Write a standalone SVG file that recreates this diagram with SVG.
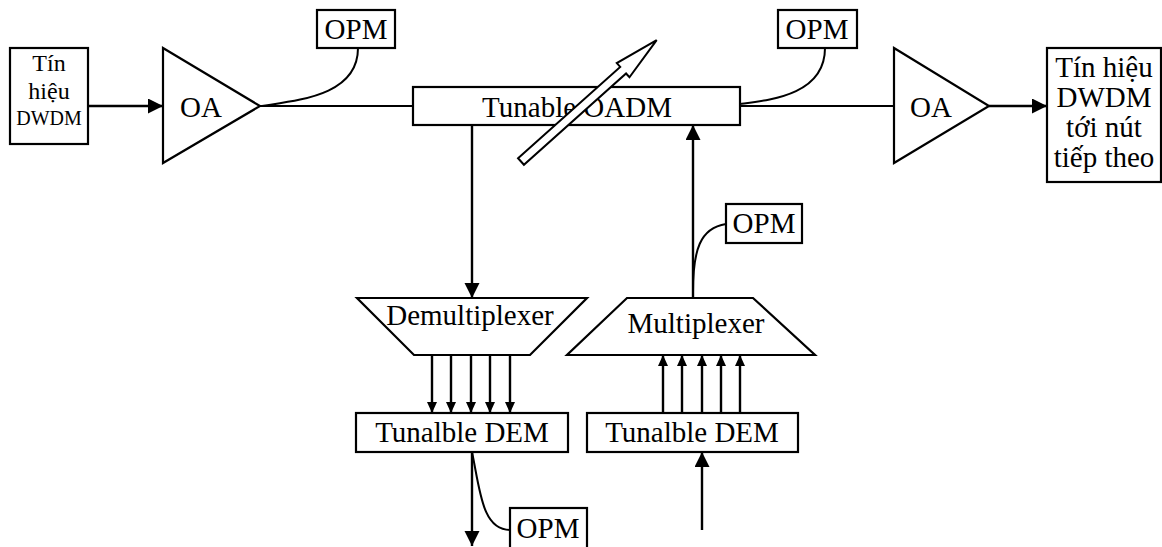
<svg xmlns="http://www.w3.org/2000/svg" width="1162" height="547" viewBox="0 0 1162 547">
<style>
.box{fill:#fff;stroke:#000;stroke-width:2.2}
.t{font-family:"Liberation Serif","Times New Roman",serif;fill:#000;text-anchor:middle}
.big{font-size:29px}
.ln{fill:none;stroke:#000;stroke-width:2}
.th{fill:none;stroke:#000;stroke-width:2.4}
</style>
<defs>
<marker id="ah" markerUnits="userSpaceOnUse" markerWidth="16" markerHeight="16" refX="15" refY="7.5" orient="auto">
<path d="M0,0 L15,7.5 L0,15 Z" fill="#000"/>
</marker>
<marker id="as" markerUnits="userSpaceOnUse" markerWidth="12" markerHeight="10" refX="11" refY="5" orient="auto">
<path d="M0,0 L11,5 L0,10 Z" fill="#000"/>
</marker>
</defs>

<g id="connectors">
<line class="th" x1="88" y1="106" x2="163" y2="106" marker-end="url(#ah)"/>
<line class="ln" x1="260" y1="106" x2="413" y2="106"/>
<path class="ln" d="M358,48 C358,95 300,100 262,106"/>
<line class="ln" x1="740" y1="106" x2="894" y2="106"/>
<path class="ln" d="M825,48 C825,95 770,100 740,104"/>
<line class="th" x1="989" y1="106" x2="1047" y2="106" marker-end="url(#ah)"/>
<line class="th" x1="472" y1="125" x2="472" y2="298" marker-end="url(#ah)"/>
<line class="th" x1="693" y1="298" x2="693" y2="125" marker-end="url(#ah)"/>
<path class="ln" d="M693,292 C693,250 700,228 726,224"/>
<line class="th" x1="432" y1="355" x2="432" y2="413" marker-end="url(#as)"/>
<line class="th" x1="451" y1="355" x2="451" y2="413" marker-end="url(#as)"/>
<line class="th" x1="471" y1="355" x2="471" y2="413" marker-end="url(#as)"/>
<line class="th" x1="490" y1="355" x2="490" y2="413" marker-end="url(#as)"/>
<line class="th" x1="510" y1="355" x2="510" y2="413" marker-end="url(#as)"/>
<line class="th" x1="663" y1="413" x2="663" y2="355" marker-end="url(#as)"/>
<line class="th" x1="682" y1="413" x2="682" y2="355" marker-end="url(#as)"/>
<line class="th" x1="702" y1="413" x2="702" y2="355" marker-end="url(#as)"/>
<line class="th" x1="721" y1="413" x2="721" y2="355" marker-end="url(#as)"/>
<line class="th" x1="740" y1="413" x2="740" y2="355" marker-end="url(#as)"/>
<line class="th" x1="702" y1="530" x2="702" y2="452" marker-end="url(#ah)"/>
<line class="th" x1="472" y1="452" x2="472" y2="546" marker-end="url(#ah)"/>
<path class="ln" d="M472,452 C480,490 482,530 510,530"/>
</g>

<g id="src">
<rect class="box" x="10" y="48" width="78" height="96"/>
<text class="t" x="49" y="71" font-size="24">Tín</text>
<text class="t" x="49" y="99" font-size="24">hiệu</text>
<text class="t" x="49" y="125" font-size="20">DWDM</text>
</g>

<g id="oa1">
<polygon class="box" points="163,48 260,106 163,163"/>
<text class="t big" x="201" y="117">OA</text>
</g>

<g id="opm1">
<rect class="box" x="317" y="10" width="78" height="38"/>
<text class="t big" x="356" y="39">OPM</text>
</g>

<g id="oadm">
<rect class="box" x="413" y="87" width="327" height="38"/>
<text class="t big" x="577" y="117">Tunable OADM</text>
</g>

<g id="tune-arrow">
<polygon fill="#fff" stroke="#000" stroke-width="2" stroke-linejoin="miter" transform="translate(521,161.5) rotate(-41.8)" points="0,-4.4 137,-4.4 137,-9.5 182,0 137,9.5 137,4.4 0,4.4"/>
</g>

<g id="opm2">
<rect class="box" x="778" y="10" width="79" height="38"/>
<text class="t big" x="817" y="39">OPM</text>
</g>

<g id="oa2">
<polygon class="box" points="894,48 989,106 894,163"/>
<text class="t big" x="931" y="117">OA</text>
</g>

<g id="dst">
<rect class="box" x="1047" y="48" width="114" height="134"/>
<text class="t big" x="1104" y="77">Tín hiệu</text>
<text class="t big" x="1104" y="107">DWDM</text>
<text class="t big" x="1104" y="137">tới nút</text>
<text class="t big" x="1104" y="167">tiếp theo</text>
</g>

<g id="demux">
<polygon class="box" points="357,298 587,298 530,355 414,355"/>
<text class="t big" x="470" y="325">Demultiplexer</text>
</g>

<g id="mux">
<polygon class="box" points="627,298 753,298 815,355 567,355"/>
<text class="t big" x="696" y="333">Multiplexer</text>
</g>

<g id="opm3">
<rect class="box" x="726" y="204" width="76" height="39"/>
<text class="t big" x="764" y="233">OPM</text>
</g>

<g id="dem1">
<rect class="box" x="356" y="413" width="212" height="39"/>
<text class="t big" x="462" y="442">Tunalble DEM</text>
</g>

<g id="dem2">
<rect class="box" x="587" y="413" width="211" height="39"/>
<text class="t big" x="692" y="442">Tunalble DEM</text>
</g>

<g id="opm4">
<rect class="box" x="510" y="508" width="77" height="45"/>
<text class="t big" x="548" y="538">OPM</text>
</g>
</svg>
